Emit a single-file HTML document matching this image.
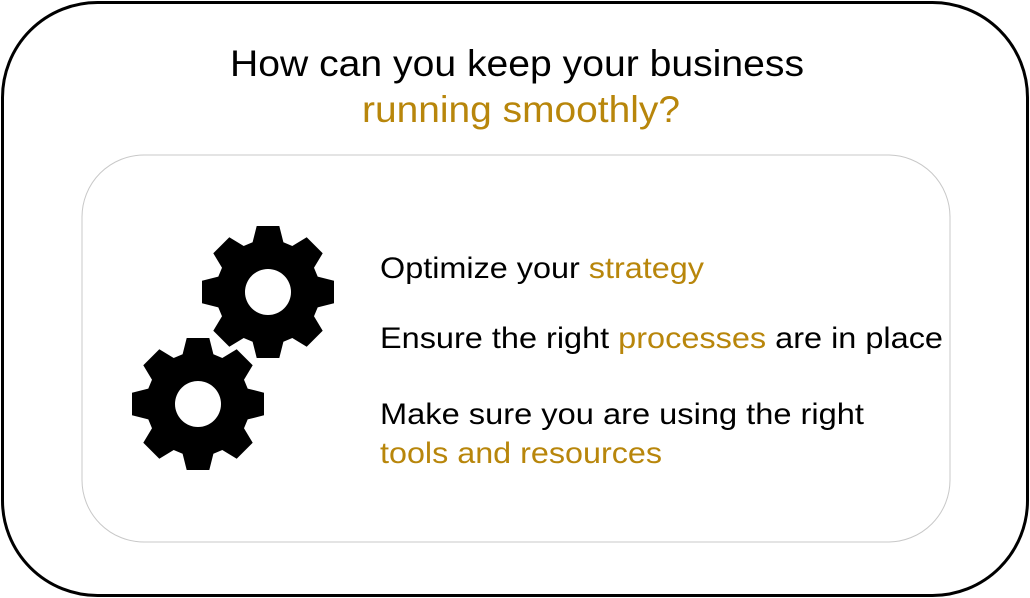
<!DOCTYPE html>
<html><head><meta charset="utf-8"><style>
html,body{margin:0;padding:0;background:#fff;}
svg{display:block;font-family:"Liberation Sans",Arial,sans-serif;}
</style></head><body>
<svg id="s" width="1030" height="598" viewBox="0 0 1030 598" xmlns="http://www.w3.org/2000/svg">
<rect x="2.5" y="2.5" width="1025" height="593" rx="95" ry="95" fill="#fff" stroke="#000" stroke-width="3"/>
<rect x="82" y="155" width="868" height="387" rx="62" ry="62" fill="#fff" stroke="#c8c8c8" stroke-width="1"/>
<g id="gears"></g>
<text x="517" y="76" font-size="37" text-anchor="middle" fill="#000" textLength="574" lengthAdjust="spacingAndGlyphs">How can you keep your business</text>
<text x="521" y="122" font-size="37" text-anchor="middle" fill="#b8860b" textLength="318" lengthAdjust="spacingAndGlyphs">running smoothly?</text>
<text x="380" y="278" font-size="30" fill="#000" textLength="324" lengthAdjust="spacingAndGlyphs">Optimize your <tspan fill="#b8860b">strategy</tspan></text>
<text x="380" y="348" font-size="30" fill="#000" textLength="563" lengthAdjust="spacingAndGlyphs">Ensure the right <tspan fill="#b8860b">processes</tspan> are in place</text>
<text x="380" y="424" font-size="30" fill="#000" textLength="484" lengthAdjust="spacingAndGlyphs">Make sure you are using the right</text>
<text x="380" y="463" font-size="30" fill="#b8860b" textLength="282" lengthAdjust="spacingAndGlyphs">tools and resources</text>
</svg>
<script>
function gear(cx,cy,R,r,hole,rot){
  var pts=[],n=8,step=2*Math.PI/n;
  for(var i=0;i<n;i++){
    var a=i*step+rot;
    var tip=0.17, base=0.30;
    pts.push([cx+r*Math.cos(a-base),cy+r*Math.sin(a-base)]);
    pts.push([cx+R*Math.cos(a-tip),cy+R*Math.sin(a-tip)]);
    pts.push([cx+R*Math.cos(a+tip),cy+R*Math.sin(a+tip)]);
    pts.push([cx+r*Math.cos(a+base),cy+r*Math.sin(a+base)]);
  }
  var d="M"+pts.map(function(p){return p[0].toFixed(1)+","+p[1].toFixed(1)}).join("L")+"Z";
  d+="M"+(cx+hole)+","+cy+"A"+hole+","+hole+" 0 1,0 "+(cx-hole)+","+cy+"A"+hole+","+hole+" 0 1,0 "+(cx+hole)+","+cy+"Z";
  return '<path d="'+d+'" fill="#000" fill-rule="evenodd"/>';
}
document.getElementById("gears").innerHTML=gear(268,292,67,52,23,-Math.PI/2)+gear(198,404,67,52,23,-Math.PI/2);
</script>
</body></html>
